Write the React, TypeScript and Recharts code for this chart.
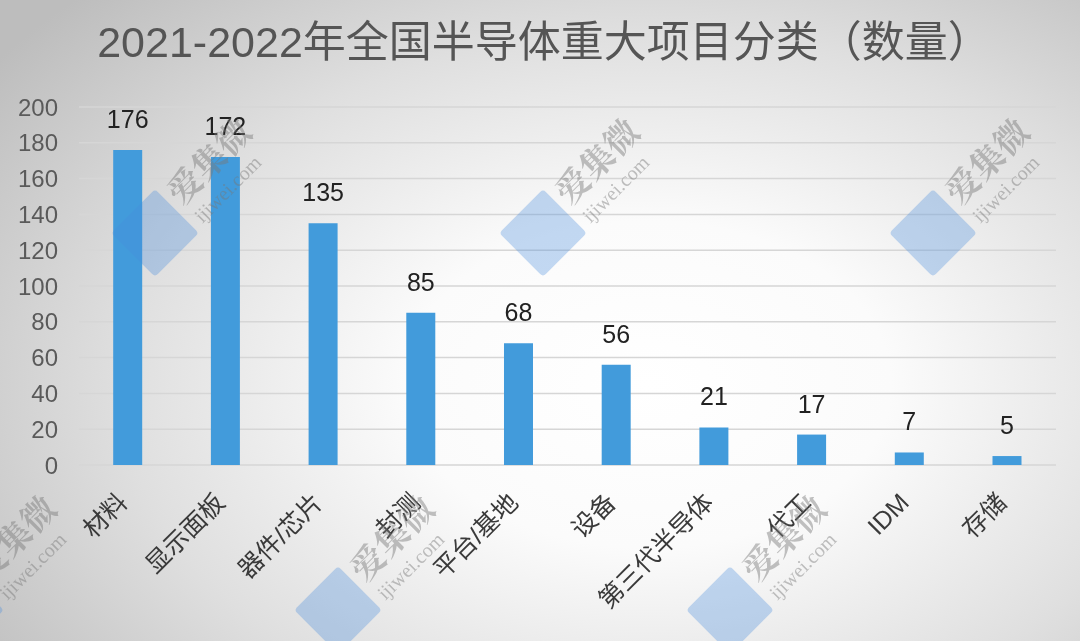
import { BarChart, Bar, XAxis, YAxis, CartesianGrid, LabelList } from 'recharts'

const categories = ['材料', '显示面板', '器件/芯片', '封测', '平台/基地', '设备', '第三代半导体', '代工', 'IDM', '存储']
const counts = [176, 172, 135, 85, 68, 56, 21, 17, 7, 5]
const yTicks = [0, 20, 40, 60, 80, 100, 120, 140, 160, 180, 200]

const TITLE = '2021-2022年全国半导体重大项目分类（数量）'
const FONT = "'Liberation Sans', 'Noto Sans CJK SC', sans-serif"
const BAR_COLOR = '#429bdb'

// watermark centres (page px)
const marks: [number, number][] = [
  [155, 233],
  [543, 233],
  [933, 233],
  [-40, 610],
  [338, 610],
  [730, 610],
]

const data = categories.map((name, i) => ({ name, value: counts[i] }))

function XTick(props: any) {
  const { x, y, payload } = props
  return (
    <g transform={`translate(${x + 1},${y + 31}) rotate(-45)`}>
      <text x={0} y={0} textAnchor="end" fontSize={25} fill="#3a3a3a" fontFamily={FONT}>
        {payload.value}
      </text>
    </g>
  )
}

function Watermark({ cx, cy }: { cx: number; cy: number }) {
  return (
    <div
      style={{
        position: 'absolute',
        left: cx,
        top: cy,
        width: 0,
        height: 0,
        transform: 'rotate(-45deg)',
        transformOrigin: '0 0',
        pointerEvents: 'none',
      }}
    >
      <div
        style={{
          position: 'absolute',
          left: -31,
          top: -31,
          width: 62,
          height: 62,
          background: 'rgba(70, 140, 220, 0.32)',
          borderRadius: 4,
        }}
      />
      <div
        style={{
          position: 'absolute',
          left: 38,
          top: -34,
          fontSize: 34,
          lineHeight: '40px',
          whiteSpace: 'nowrap',
          color: 'rgba(120,120,120,0.45)',
          fontFamily: "'Noto Serif CJK SC', 'Noto Sans CJK SC', serif",
          fontWeight: 700,
        }}
      >
        爱集微
      </div>
      <div
        style={{
          position: 'absolute',
          left: 40,
          top: 8,
          fontSize: 20,
          lineHeight: '24px',
          whiteSpace: 'nowrap',
          color: 'rgba(120,120,120,0.45)',
          fontFamily: "'Liberation Serif', 'DejaVu Serif', serif",
        }}
      >
        ijiwei.com
      </div>
    </div>
  )
}

export default function App() {
  return (
    <div
      style={{
        position: 'fixed',
        left: 0,
        top: 0,
        width: 1080,
        height: 641,
        overflow: 'hidden',
        background:
          'radial-gradient(ellipse 75% 85% at 60% 60%, #ffffff 0%, #fbfbfb 30%, #dfdfdf 65%, #bdbdbd 100%)',
      }}
    >
      <div
        style={{
          position: 'absolute',
          left: 8,
          top: 17,
          width: 1072,
          textAlign: 'center',
          fontSize: 43,
          lineHeight: '50px',
          color: '#555',
          fontFamily: FONT,
        }}
      >
        {TITLE}
      </div>
      <BarChart
        width={1080}
        height={641}
        data={data}
        margin={{ top: 107, right: 24, bottom: 146, left: 0 }}
        barCategoryGap="35%"
      >
        <CartesianGrid vertical={false} stroke="#d6d6d6" strokeWidth={1.5} />
        <XAxis
          dataKey="name"
          axisLine={false}
          tickLine={false}
          interval={0}
          height={30}
          tick={<XTick />}
        />
        <YAxis
          width={79}
          domain={[0, 200]}
          ticks={yTicks}
          interval={0}
          axisLine={false}
          tickLine={false}
          tickMargin={15}
          tick={{ fontSize: 24, fill: '#5a5a5a', fontFamily: FONT }}
        />
        <Bar dataKey="value" fill={BAR_COLOR} isAnimationActive={false}>
          <LabelList
            dataKey="value"
            position="top"
            offset={22}
            style={{ fontSize: 25, fill: '#222', fontFamily: FONT }}
          />
        </Bar>
      </BarChart>
      {marks.map(([cx, cy], i) => (
        <Watermark key={i} cx={cx} cy={cy} />
      ))}
    </div>
  )
}
